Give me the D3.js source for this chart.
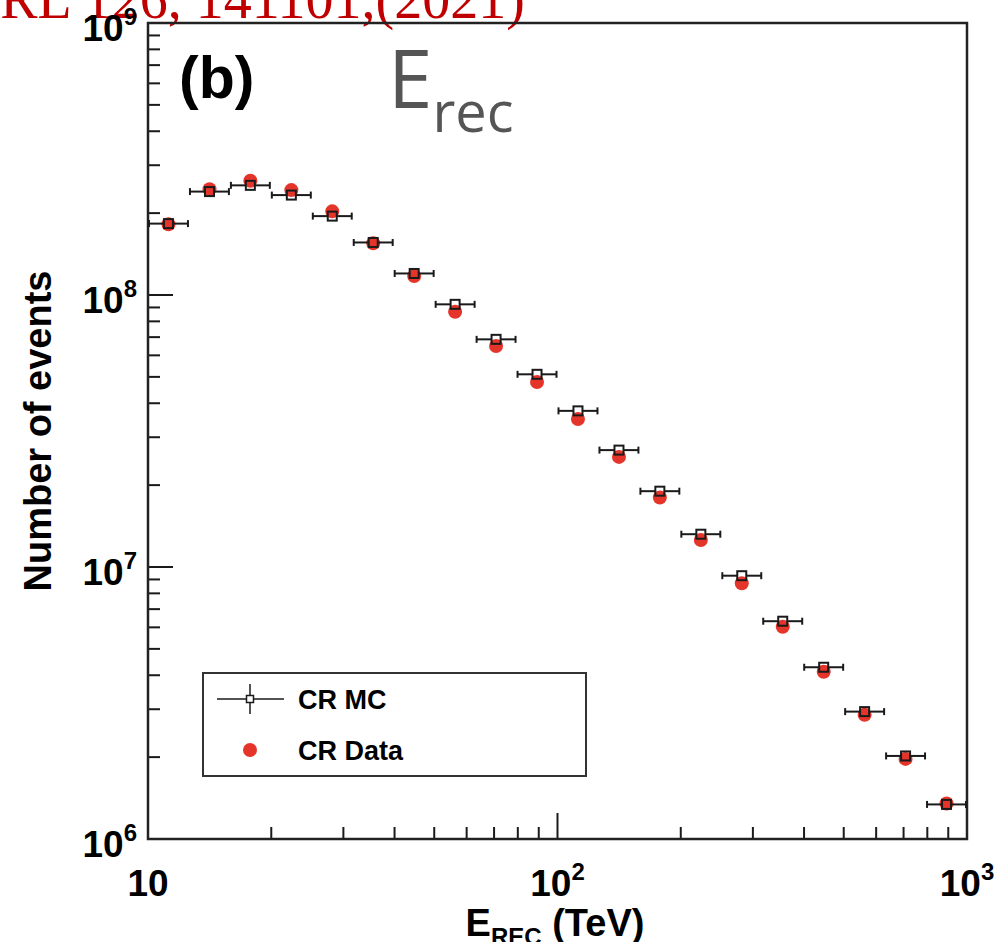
<!DOCTYPE html>
<html>
<head>
<meta charset="utf-8">
<script src="https://cdn.jsdelivr.net/npm/d3@7"></script>
<style>
  html, body { margin: 0; padding: 0; background: #fff; }
  svg { display: block; }
</style>
</head>
<body>
<svg id="chart" width="995" height="942"></svg>
<script>
// ---------------- data ----------------
const binEdges = [10, 12.59, 15.85, 19.95, 25.12, 31.62, 39.81, 50.12, 63.10, 79.43, 100,
                  125.9, 158.5, 199.5, 251.2, 316.2, 398.1, 501.2, 631.0, 794.3, 1000];
const energyCenters = [11.22, 14.13, 17.78, 22.39, 28.18, 35.48, 44.67, 56.23, 70.79, 89.13,
                       112.2, 141.3, 177.8, 223.9, 281.8, 354.8, 446.7, 562.3, 707.9, 891.3];
const mcCounts = [1.83e8, 2.40e8, 2.53e8, 2.33e8, 1.95e8, 1.56e8, 1.20e8, 9.24e7, 6.87e7, 5.11e7,
                  3.75e7, 2.69e7, 1.90e7, 1.32e7, 9.29e6, 6.32e6, 4.28e6, 2.94e6, 2.02e6, 1.34e6];
const dataCounts = [1.82e8, 2.45e8, 2.63e8, 2.43e8, 2.03e8, 1.55e8, 1.175e8, 8.68e7, 6.49e7, 4.79e7,
                    3.50e7, 2.54e7, 1.80e7, 1.257e7, 8.71e6, 6.03e6, 4.12e6, 2.86e6, 1.97e6, 1.35e6];
const xMajorTicks = [10, 100, 1000];
const xMajorExps = ["", "2", "3"];
const yMajorTicks = [1e6, 1e7, 1e8, 1e9];
const yMajorExps = ["6", "7", "8", "9"];
const legendLabels = ["CR MC", "CR Data"];
const citation = "PRL 126, 141101,(2021)";

// ---------------- layout ----------------
const svg = d3.select("#chart");
const L = 148, R = 967, T = 23, B = 839;
const x = d3.scaleLog().domain([10, 1000]).range([L, R]);
const y = d3.scaleLog().domain([1e6, 1e9]).range([B, T]);
const red = "#e5352b";
const ink = "#1a1a1a";
const font = "'Liberation Sans', Arial, Helvetica, sans-serif";

svg.append("rect").attr("width", 995).attr("height", 942).attr("fill", "#fff");

// citation text (clipped at top)
svg.append("text").attr("x", -31).attr("y", 18)
  .attr("font-family", "'Liberation Serif', 'Times New Roman', serif")
  .attr("font-size", 56).attr("fill", "#c00000").text(citation);

// ---------------- ticks ----------------
const g = svg.append("g");
const isMajor = v => Math.abs(Math.log10(v) - Math.round(Math.log10(v))) < 1e-9;

x.ticks().forEach(v => {
  const len = isMajor(v) ? 26 : 12;
  g.append("line").attr("x1", x(v)).attr("x2", x(v)).attr("y1", B).attr("y2", B - len)
    .attr("stroke", ink).attr("stroke-width", 2);
});
y.ticks().forEach(v => {
  const len = isMajor(v) ? 25 : 12;
  g.append("line").attr("y1", y(v)).attr("y2", y(v)).attr("x1", L).attr("x2", L + len)
    .attr("stroke", ink).attr("stroke-width", 2);
});

// frame
g.append("rect").attr("x", L).attr("y", T).attr("width", R - L).attr("height", B - T)
  .attr("fill", "none").attr("stroke", "#222").attr("stroke-width", 2.5);

// x tick labels
xMajorTicks.forEach((v, i) => {
  const t = svg.append("text").attr("x", x(v)).attr("y", 896)
    .attr("text-anchor", "middle").attr("font-family", font).attr("font-weight", "bold")
    .attr("font-size", 37).attr("fill", "#000");
  t.append("tspan").text("10");
  if (xMajorExps[i]) t.append("tspan").attr("dy", -16).attr("font-size", 24).text(xMajorExps[i]);
});
// y tick labels
yMajorTicks.forEach((v, i) => {
  const t = svg.append("text").attr("x", 137).attr("y", y(v) + 18)
    .attr("text-anchor", "end").attr("font-family", font).attr("font-weight", "bold")
    .attr("font-size", 37).attr("fill", "#000");
  t.append("tspan").text("10");
  t.append("tspan").attr("dy", -16).attr("font-size", 24).text(yMajorExps[i]);
});

// axis titles
const xt = svg.append("text").attr("x", 555).attr("y", 936).attr("text-anchor", "middle")
  .attr("font-family", font).attr("font-weight", "bold").attr("font-size", 38).attr("fill", "#000");
xt.append("tspan").text("E");
xt.append("tspan").attr("dy", 9).attr("font-size", 24).text("REC");
xt.append("tspan").attr("dy", -9).text(" (TeV)");

svg.append("text").attr("transform", "translate(51,431) rotate(-90)").attr("text-anchor", "middle")
  .attr("font-family", font).attr("font-weight", "bold").attr("font-size", 38).attr("fill", "#000")
  .text("Number of events");

// panel label and E_rec annotation
svg.append("text").attr("x", 179).attr("y", 98).attr("font-family", font).attr("font-weight", "bold")
  .attr("font-size", 59).attr("fill", "#000").text("(b)");
const er = svg.append("text").attr("x", 388).attr("y", 108).attr("font-family", "'Open Sans', 'Noto Sans', sans-serif")
  .attr("font-size", 80).attr("fill", "#555");
er.append("tspan").text("E");
er.append("tspan").attr("dy", 24).attr("font-size", 56).text("rec");

// ---------------- marks ----------------
const marks = svg.append("g");
// data circles
marks.selectAll("circle.data").data(energyCenters).enter().append("circle")
  .attr("class", "data")
  .attr("cx", d => x(d)).attr("cy", (d, i) => y(dataCounts[i])).attr("r", 7)
  .attr("fill", red);

// MC error bars with gap at marker, and open squares
const hs = 4.5;
energyCenters.forEach((e, i) => {
  const cx = x(e), cy = y(mcCounts[i]);
  const x0 = x(binEdges[i]), x1 = x(binEdges[i + 1]);
  marks.append("line").attr("x1", x0 + 1).attr("x2", cx - hs).attr("y1", cy).attr("y2", cy)
    .attr("stroke", ink).attr("stroke-width", 2);
  marks.append("line").attr("x1", cx + hs).attr("x2", x1 - 1).attr("y1", cy).attr("y2", cy)
    .attr("stroke", ink).attr("stroke-width", 2);
  [x0 + 1, x1 - 1].forEach(xx => {
    marks.append("line").attr("x1", xx).attr("x2", xx).attr("y1", cy - 3.5).attr("y2", cy + 3.5)
      .attr("stroke", ink).attr("stroke-width", 2);
  });
  marks.append("rect").attr("x", cx - hs).attr("y", cy - hs).attr("width", 2 * hs).attr("height", 2 * hs)
    .attr("fill", "none").attr("stroke", ink).attr("stroke-width", 2);
});

// ---------------- legend ----------------
const lg = svg.append("g");
lg.append("rect").attr("x", 203).attr("y", 673).attr("width", 383).attr("height", 103)
  .attr("fill", "#fff").attr("stroke", "#333").attr("stroke-width", 2);
// MC entry
lg.append("line").attr("x1", 217).attr("x2", 284).attr("y1", 699).attr("y2", 699).attr("stroke", ink).attr("stroke-width", 1.5);
lg.append("line").attr("x1", 250).attr("x2", 250).attr("y1", 684).attr("y2", 714).attr("stroke", ink).attr("stroke-width", 1.5);
lg.append("rect").attr("x", 246.5).attr("y", 695.5).attr("width", 7).attr("height", 7)
  .attr("fill", "#fff").attr("stroke", ink).attr("stroke-width", 1.5);
lg.append("circle").attr("cx", 250).attr("cy", 750).attr("r", 7).attr("fill", red);
legendLabels.forEach((s, i) => {
  lg.append("text").attr("x", 298).attr("y", 709 + i * 51)
    .attr("font-family", font).attr("font-weight", "bold").attr("font-size", 27).attr("fill", "#000").text(s);
});
</script>
</body>
</html>
